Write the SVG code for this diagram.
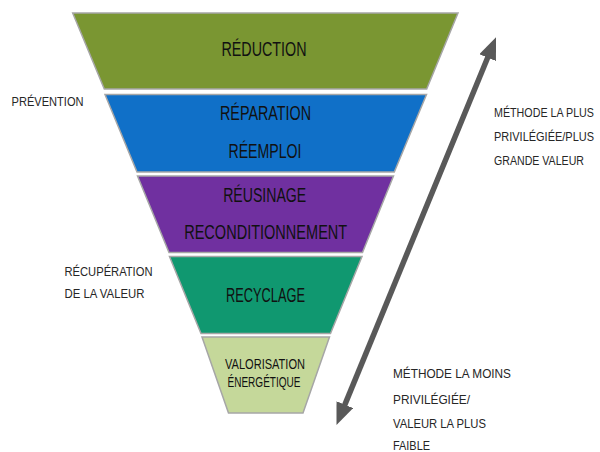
<svg xmlns="http://www.w3.org/2000/svg" width="600" height="452" viewBox="0 0 600 452">
<defs>
<style>
.band{stroke:#a6a6a6;stroke-width:1.5}
.lbl{font-family:"Liberation Sans",Arial,sans-serif;fill:#111111;text-anchor:middle}
.big{font-size:21px}
.small{font-size:14px}
.side{font-family:"Liberation Sans",Arial,sans-serif;fill:#262626;font-size:13.5px}
.arrow{stroke:#595959;stroke-width:5.5;fill:none}
</style>
<marker id="ah" markerUnits="userSpaceOnUse" viewBox="0 0 22 18" markerWidth="22" markerHeight="18" refX="7" refY="9" orient="auto-start-reverse">
<path d="M0,0 L22,9 L0,18 Z" fill="#595959"/>
</marker>
</defs>
<rect width="600" height="452" fill="#ffffff"/>
<g id="reduction">
<polygon class="band" fill="#7a9632" points="72.7,13 458,13 426.7,89 104.3,89"/>
<text class="lbl big" x="264" y="56" textLength="85" lengthAdjust="spacingAndGlyphs">RÉDUCTION</text>
</g>
<g id="reparation">
<polygon class="band" fill="#1070c8" points="105,94.5 426.5,94.5 394.3,172 137,172"/>
<text class="lbl big" x="265.5" y="120" textLength="91" lengthAdjust="spacingAndGlyphs">RÉPARATION</text>
<text class="lbl big" x="265" y="157.5" textLength="73" lengthAdjust="spacingAndGlyphs">RÉEMPLOI</text>
</g>
<g id="reusinage">
<polygon class="band" fill="#7030a0" points="137.5,176 393.5,176 362.5,252.5 169,252.5"/>
<text class="lbl big" x="264.7" y="201.5" textLength="83" lengthAdjust="spacingAndGlyphs">RÉUSINAGE</text>
<text class="lbl big" x="265.7" y="238.5" textLength="163" lengthAdjust="spacingAndGlyphs">RECONDITIONNEMENT</text>
</g>
<g id="recyclage">
<polygon class="band" fill="#109870" points="169.5,256.5 362,256.5 330.5,333.5 201,333.5"/>
<text class="lbl big" x="265.5" y="301.5" textLength="79" lengthAdjust="spacingAndGlyphs">RECYCLAGE</text>
</g>
<g id="valorisation">
<polygon class="band" fill="#c5d89a" points="202,337 329.5,337 303,413 228.5,413"/>
<text class="lbl small" x="265" y="369.3" textLength="80" lengthAdjust="spacingAndGlyphs">VALORISATION</text>
<text class="lbl small" x="264" y="386.7" textLength="73" lengthAdjust="spacingAndGlyphs">ÉNERGÉTIQUE</text>
</g>
<g id="labels-left">
<text class="side" x="11.5" y="106" font-size="14" textLength="72" lengthAdjust="spacingAndGlyphs">PRÉVENTION</text>
<text class="side" x="64.5" y="276" font-size="14" textLength="88" lengthAdjust="spacingAndGlyphs">RÉCUPÉRATION</text>
<text class="side" x="64.5" y="298.3" font-size="14" textLength="80" lengthAdjust="spacingAndGlyphs">DE LA VALEUR</text>
</g>
<g id="labels-right-top" transform="translate(494,0) scale(0.8,1)">
<text class="side" x="0" y="117.5" textLength="125" lengthAdjust="spacingAndGlyphs">MÉTHODE LA PLUS</text>
<text class="side" x="0" y="141.5" textLength="125" lengthAdjust="spacingAndGlyphs">PRIVILÉGIÉE/PLUS</text>
<text class="side" x="0" y="165.5" textLength="112.5" lengthAdjust="spacingAndGlyphs">GRANDE VALEUR</text>
</g>
<g id="labels-right-bottom">
<text class="side" x="393" y="378.3" textLength="118" lengthAdjust="spacingAndGlyphs">MÉTHODE LA MOINS</text>
<text class="side" x="393" y="403.5" textLength="77" lengthAdjust="spacingAndGlyphs">PRIVILÉGIÉE/</text>
<text class="side" x="393" y="428.3" textLength="93" lengthAdjust="spacingAndGlyphs">VALEUR LA PLUS</text>
<text class="side" x="393" y="450" textLength="37" lengthAdjust="spacingAndGlyphs">FAIBLE</text>
</g>
<g id="connectors">
<line class="arrow" x1="342.2" y1="411.1" x2="490.3" y2="51.2" marker-start="url(#ah)" marker-end="url(#ah)"/>
</g>
</svg>
